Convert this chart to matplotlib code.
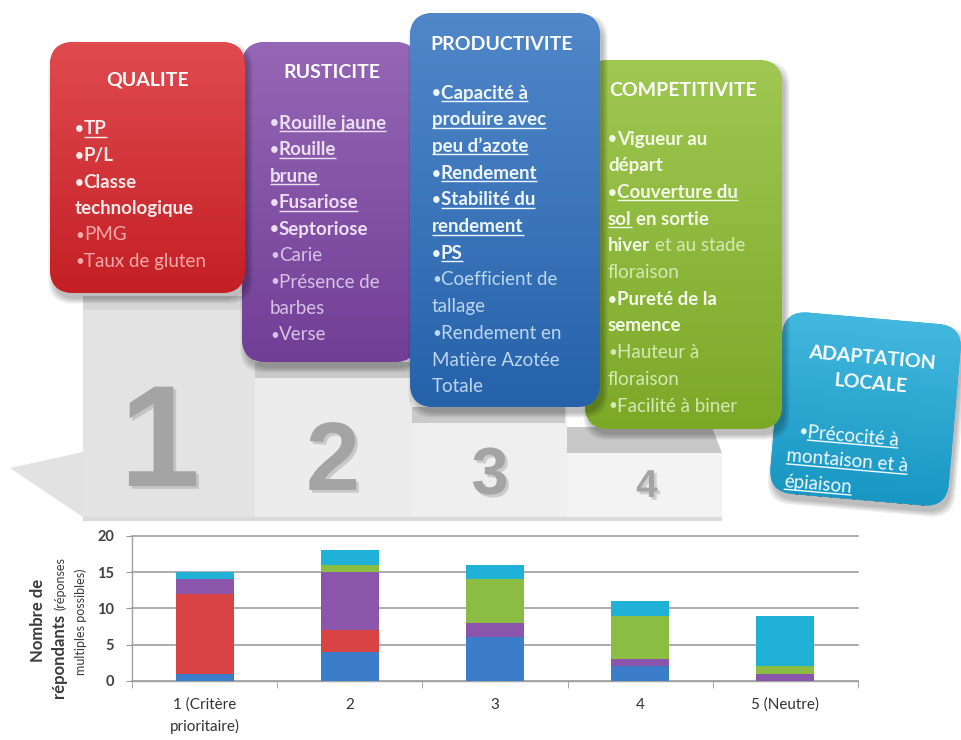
import numpy as np
import matplotlib
matplotlib.use("Agg")
import matplotlib.pyplot as plt
from matplotlib.patches import FancyBboxPatch, Rectangle, Polygon
from matplotlib.font_manager import FontProperties
from matplotlib.transforms import Affine2D
from matplotlib.colors import to_rgb
import matplotlib.patheffects as pe

FONT = "Lato"

# ---- survey results: number of respondents per rank, by criterion family ----
ranks = ["1 (Critère\nprioritaire)", "2", "3", "4", "5 (Neutre)"]
productivite = [1, 4, 6, 2, 0]
qualite = [11, 3, 0, 0, 0]
rusticite = [2, 8, 2, 1, 1]
competitivite = [0, 1, 6, 6, 1]
adaptation = [1, 2, 2, 2, 7]

series = [productivite, qualite, rusticite, competitivite, adaptation]
series_colors = ["#3b7dc8", "#d94343", "#8a55aa", "#8cbd43", "#1fb2d6"]
y_ticks = [0, 5, 10, 15, 20]

# ---- criteria listed in each box: (text, style) runs per line ----
# U = underlined bold, B = bold, N = normal, u = underlined normal
qualite_lines = [
    [("•TP", "U")], [("•P/L", "B")], [("•Classe", "B")], [("technologique", "B")],
    [("•PMG", "N")], [("•Taux de gluten", "N")],
]
rusticite_lines = [
    [("•Rouille jaune", "U")], [("•Rouille", "U")], [("brune", "U")],
    [("•Fusariose", "U")], [("•Septoriose", "B")], [("•Carie", "N")],
    [("•Présence de", "N")], [("barbes", "N")], [("•Verse", "N")],
]
productivite_lines = [
    [("•Capacité à", "U")], [("produire avec", "U")], [("peu d’azote", "U")],
    [("•Rendement", "U")], [("•Stabilité du", "U")], [("rendement", "U")],
    [("•PS", "U")], [("•Coefficient de", "N")], [("tallage", "N")],
    [("•Rendement en", "N")], [("Matière Azotée", "N")], [("Totale", "N")],
]
competitivite_lines = [
    [("•Vigueur au", "B")], [("départ", "B")], [("•Couverture du", "U")],
    [("sol", "U"), (" en sortie", "B")], [("hiver", "B"), (" et au stade", "N")],
    [("floraison", "N")], [("•Pureté de la", "B")], [("semence", "B")],
    [("•Hauteur à", "N")], [("floraison", "N")], [("•Facilité à biner", "N")],
]
adaptation_lines = [
    [("•Précocité à", "u")], [("montaison et à", "u")], [("épiaison", "u")],
]

fig = plt.figure(figsize=(9.61, 7.4), dpi=100)
fig.patch.set_facecolor("white")
renderer = fig.canvas.get_renderer()

# full-figure canvas in pixel units (y downwards)
bg = fig.add_axes([0, 0, 1, 1])
bg.set_xlim(0, 961)
bg.set_ylim(740, 0)
bg.axis("off")


def text_w(s, prop):
    w, h, d = renderer.get_text_width_height_descent(s, prop, ismath=False)
    return w


def mix(c, other, f):
    c = np.array(to_rgb(c))
    o = np.array(to_rgb(other))
    return tuple(c * (1 - f) + o * f)


# ---- podium ----
bg.add_patch(Polygon([(10, 468), (83, 452), (83, 517)], closed=True,
                     facecolor="#d6d6d6", edgecolor="none", alpha=0.7, zorder=0.5))
bg.add_patch(Rectangle((83, 296), 172, 222, facecolor="#e3e3e3", edgecolor="none", zorder=0.6))
bg.add_patch(Rectangle((83, 296), 172, 14, facecolor="#d6d6d6", edgecolor="none", zorder=0.61))
bg.add_patch(Rectangle((255, 362), 157, 156, facecolor="#ececec", edgecolor="none", zorder=0.6))
bg.add_patch(Rectangle((255, 362), 157, 16, facecolor="#c9c9c9", edgecolor="none", zorder=0.61))
bg.add_patch(Rectangle((412, 407), 155, 111, facecolor="#efefef", edgecolor="none", zorder=0.6))
bg.add_patch(Rectangle((412, 407), 153, 16, facecolor="#cacaca", edgecolor="none", zorder=0.61))
bg.add_patch(Rectangle((567, 453), 155, 65, facecolor="#f3f3f3", edgecolor="none", zorder=0.6))
bg.add_patch(Polygon([(567, 427), (712, 427), (722, 453), (567, 453)], closed=True,
                     facecolor="#c8c8c8", edgecolor="none", zorder=0.61))
bg.plot([83, 722], [519, 519], color="#dadada", lw=3, zorder=0.62, solid_capstyle="butt")

shadow = [pe.withSimplePatchShadow(offset=(2, -2), shadow_rgbFace="#7a7a7a", alpha=0.3)]
numerals = [("1", 160, 486, 104), ("2", 333, 490, 70), ("3", 490, 494, 48), ("4", 647, 497, 28)]
for s, x, y, size in numerals:
    bg.text(x, y, s, fontsize=size, fontweight="heavy", family="Liberation Sans",
            color="#a4a4a4", ha="center", va="baseline", zorder=0.7, path_effects=shadow)


# ---- coloured criterion boxes ----
def draw_box(x0, y0, x1, y1, color, z, angle=0.0, r=24):
    w, h = x1 - x0, y1 - y0
    cx, cy = (x0 + x1) / 2, (y0 + y1) / 2
    tr = Affine2D().rotate_deg_around(cx, cy, angle) + bg.transData
    for i in range(4):
        sh = FancyBboxPatch((x0 + 3, y0 + 6), w, h,
                            boxstyle=f"round,pad={1.5 * i},rounding_size={r}",
                            facecolor="black", edgecolor="none", alpha=0.07,
                            transform=tr, zorder=z - 0.05)
        bg.add_patch(sh)
    box = FancyBboxPatch((x0, y0), w, h, boxstyle=f"round,pad=0,rounding_size={r}",
                         facecolor=color, edgecolor="none", transform=tr, zorder=z)
    bg.add_patch(box)
    top = np.array(mix(color, "white", 0.18))
    bot = np.array(mix(color, "black", 0.10))
    t = np.linspace(0, 1, 120)[:, None, None]
    grad = top * (1 - t) + bot * t
    im = bg.imshow(grad, extent=(x0, x1, y1, y0), origin="upper", aspect="auto",
                   zorder=z + 0.01, interpolation="bilinear")
    im.set_transform(tr)
    im.set_clip_path(box)
    return tr


def draw_lines(lines, x, y_first, step, colors, size, tr, angle=0.0, z=5, xs=None):
    bold_c, norm_c = colors
    for k, runs in enumerate(lines):
        base = y_first + k * step + 6.5
        cur = x if xs is None else xs[k]
        for text, st in runs:
            weight = "bold" if st in ("U", "B") else "normal"
            prop = FontProperties(family=FONT, weight=weight, size=size)
            col = bold_c if st in ("U", "B", "u") else norm_c
            kw = dict(color=col, ha="left", va="baseline", transform=tr,
                      rotation=-angle, rotation_mode="anchor", zorder=z)
            if text.startswith(" "):
                cur += text_w("a a", prop) - text_w("aa", prop)
                text = text.lstrip(" ")
            if text.startswith("•"):
                bprop = FontProperties(family=FONT, weight=weight, size=size * 0.8)
                bg.text(cur, base - 1, "•", fontproperties=bprop, **kw)
                cur += text_w("•", bprop)
                text = text[1:]
            bg.text(cur, base, text, fontproperties=prop, **kw)
            w = text_w(text, prop)
            if st in ("U", "u"):
                bg.plot([cur, cur + w], [base + 2.5, base + 2.5], color=col,
                        lw=1.0, transform=tr, zorder=z, solid_capstyle="butt")
            cur += w


def draw_title(lines, x, y_first, step, tr, size=14, angle=0.0, z=5):
    for k, s in enumerate(lines):
        bg.text(x, y_first + k * step, s, family=FONT, fontweight="bold", fontsize=size,
                color="white", ha="center", va="center", transform=tr,
                rotation=-angle, rotation_mode="anchor", zorder=z)


ITEM = 13.5

tr = draw_box(776, 318, 955, 500, "#1aa8d8", 1, angle=5)
draw_title(["ADAPTATION", "LOCALE"], 868, 358, 25, tr, angle=5, z=1.5)
draw_lines(adaptation_lines, 0, 436, 25.5, ("#f2fbff", "#f2fbff"), ITEM, tr, angle=5,
           z=1.5, xs=[801, 791, 791])

tr = draw_box(585, 60, 782, 429, "#8abb2c", 2)
draw_title(["COMPETITIVITE"], 683, 90, 0, tr, z=2.5)
draw_lines(competitivite_lines, 608, 138, 26.7, ("#f4fae8", "#d6e9b4"), ITEM, tr, z=2.5)

tr = draw_box(242, 42, 418, 362, "#7e45a6", 2)
draw_title(["RUSTICITE"], 332, 73, 0, tr, z=2.5)
draw_lines(rusticite_lines, 270, 122, 26.5, ("#ecdff4", "#d7c3e8"), ITEM, tr, z=2.5)

tr = draw_box(50, 42, 245, 293, "#d92329", 3)
draw_title(["QUALITE"], 148, 80, 0, tr, z=3.5)
draw_lines(qualite_lines, 75, 128, 26.5, ("#fbeaea", "#f5a9a9"), ITEM, tr, z=3.5)

tr = draw_box(410, 13, 600, 407, "#2a6dbd", 3)
draw_title(["PRODUCTIVITE"], 502, 45, 0, tr, z=3.5)
draw_lines(productivite_lines, 432, 92, 26.7, ("#eef5fc", "#bcd6f0"), ITEM, tr, z=3.5)

# ---- y-axis title of the bar chart ----
ylab_c = "#3a3a3a"
bg.text(38, 620, "Nombre de", family=FONT, fontweight="bold", fontsize=12,
        color=ylab_c, rotation=90, ha="center", va="center")
p_big = FontProperties(family=FONT, weight="bold", size=12)
p_small = FontProperties(family=FONT, weight="normal", size=9)
bg.text(59, 698, "répondants", fontproperties=p_big, color=ylab_c, rotation=90,
        ha="left", va="center", rotation_mode="anchor")
w_rep = text_w("répondants", p_big)
bg.text(60, 698 - w_rep - 4, "(réponses", fontproperties=p_small, color=ylab_c,
        rotation=90, ha="left", va="center", rotation_mode="anchor")
bg.text(81, 622, "multiples possibles)", fontproperties=p_small, color=ylab_c,
        rotation=90, ha="center", va="center")

# ---- stacked bar chart ----
ax = fig.add_axes([132 / 961, 1 - 681 / 740, (858 - 132) / 961, (681 - 535.7) / 740])
x = np.arange(len(ranks))
bottom = np.zeros(len(ranks))
for vals, col in zip(series, series_colors):
    ax.bar(x, vals, width=0.4, bottom=bottom, color=col, edgecolor="none", zorder=3)
    bottom += np.array(vals)

ax.set_xlim(-0.5, len(ranks) - 0.5)
ax.set_ylim(0, 20)
ax.set_yticks(y_ticks)
ax.set_yticklabels([str(v) for v in y_ticks], family=FONT, fontweight="bold",
                   fontsize=10.5, color="#404040")
ax.set_xticks(x)
ax.set_xticklabels(ranks, family=FONT, fontsize=11, color="#333333", linespacing=1.6)
ax.set_xticks(np.arange(-0.5, len(ranks)), minor=True)
ax.tick_params(axis="x", which="major", length=0, pad=12)
ax.tick_params(axis="x", which="minor", length=5, color="#999999", direction="out")
ax.tick_params(axis="y", length=4, color="#999999", direction="out", pad=9)
ax.yaxis.grid(True, color="#9e9e9e", lw=1.2, zorder=1)
for gl in ax.get_ygridlines():
    gl.set_clip_on(False)
for side in ("top", "right"):
    ax.spines[side].set_visible(False)
for side in ("left", "bottom"):
    ax.spines[side].set_color("#a0a0a0")
    ax.spines[side].set_linewidth(1.0)
ax.set_facecolor("none")

fig.savefig("out.png", dpi=100)
